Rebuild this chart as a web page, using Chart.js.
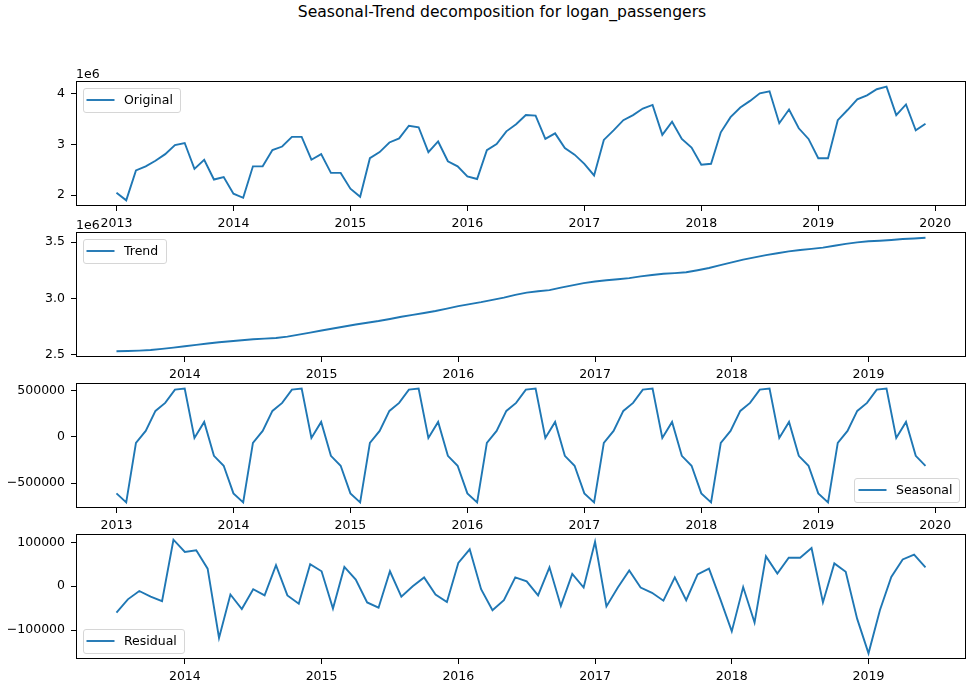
<!DOCTYPE html>
<html>
<head>
<meta charset="utf-8">
<title>logan_passengers decomposition</title>
<script src="https://cdn.jsdelivr.net/npm/chart.js@4.4.0/dist/chart.umd.min.js"></script>
<style>
  html, body { margin: 0; padding: 0; background: #fff; }
  #page { position: relative; width: 967px; height: 687px; overflow: hidden; font-family: 'DejaVu Sans', sans-serif; }
  #title { position: absolute; left: 502px; top: 3px; transform: translateX(-50%); white-space: nowrap; font-size: 15.6px; color: #000; }
  .panel { position: absolute; left: 0; }
</style>
</head>
<body>
<div id="page">
  <div id="title">Seasonal-Trend decomposition for logan_passengers</div>
  <canvas id="chart-original" class="panel" width="967" height="175" style="top:61px"></canvas>
  <canvas id="chart-trend" class="panel" width="967" height="175" style="top:212px"></canvas>
  <canvas id="chart-seasonal" class="panel" width="967" height="175" style="top:363px"></canvas>
  <canvas id="chart-residual" class="panel" width="967" height="175" style="top:514px"></canvas>
</div>
<script>
// Monthly passengers, Jan 2013 - Dec 2019 (millions)
const originalValues = [
  2.05, 1.90, 2.49, 2.57, 2.68, 2.81, 2.99, 3.03, 2.52, 2.70, 2.31, 2.36,
  2.03, 1.95, 2.57, 2.57, 2.89, 2.96, 3.15, 3.15, 2.70, 2.81, 2.44, 2.44,
  2.13, 1.97, 2.73, 2.85, 3.04, 3.12, 3.37, 3.34, 2.85, 3.06, 2.67, 2.57,
  2.37, 2.32, 2.89, 3.01, 3.26, 3.40, 3.58, 3.57, 3.11, 3.22, 2.93, 2.80,
  2.62, 2.39, 3.09, 3.28, 3.48, 3.58, 3.71, 3.78, 3.19, 3.45, 3.11, 2.94,
  2.60, 2.62, 3.24, 3.54, 3.73, 3.86, 4.01, 4.05, 3.42, 3.69, 3.32, 3.11,
  2.73, 2.73, 3.48, 3.68, 3.89, 3.97, 4.09, 4.14, 3.58, 3.79, 3.28, 3.41
];

// Trend, Jul 2013 - Jun 2019 (millions, centred moving average)
const trendValues = [
  2.527, 2.529, 2.533, 2.538, 2.548, 2.560,
  2.572, 2.584, 2.596, 2.607, 2.617, 2.626, 2.634, 2.640, 2.645, 2.658, 2.676, 2.694,
  2.712, 2.730, 2.748, 2.766, 2.782, 2.797, 2.815, 2.835, 2.852, 2.868, 2.886, 2.908,
  2.930, 2.948, 2.965, 2.985, 3.005, 3.030, 3.050, 3.062, 3.072, 3.095, 3.115, 3.135,
  3.150, 3.160, 3.170, 3.180, 3.195, 3.207, 3.218, 3.224, 3.232, 3.250, 3.270, 3.295,
  3.320, 3.345, 3.365, 3.385, 3.402, 3.418, 3.430, 3.440, 3.452, 3.468, 3.485, 3.498,
  3.508, 3.513, 3.520, 3.528, 3.533, 3.540
];

// Seasonal component, Jan 2013 - Dec 2019
const seasonalValues = [
  -609000, -706000, -64000, 64000, 280000, 366000, 509000, 520000, -11000, 161000, -204000, -312000,
  -609000, -706000, -64000, 64000, 280000, 366000, 509000, 520000, -11000, 161000, -204000, -312000,
  -609000, -706000, -64000, 64000, 280000, 366000, 509000, 520000, -11000, 161000, -204000, -312000,
  -609000, -706000, -64000, 64000, 280000, 366000, 509000, 520000, -11000, 161000, -204000, -312000,
  -609000, -706000, -64000, 64000, 280000, 366000, 509000, 520000, -11000, 161000, -204000, -312000,
  -609000, -706000, -64000, 64000, 280000, 366000, 509000, 520000, -11000, 161000, -204000, -312000,
  -609000, -706000, -64000, 64000, 280000, 366000, 509000, 520000, -11000, 161000, -204000, -312000
];

// Residual, Jul 2013 - Jun 2019
const residualValues = [
  -60000, -30000, -11000, -24000, -34000, 106000,
  78000, 82000, 40000, -118000, -19000, -52000, -7000, -21000, 48000, -21000, -40000, 50000,
  34000, -51000, 44000, 15000, -37000, -49000, 34000, -24000, 0, 20000, -19000, -36000,
  53000, 84000, -7000, -55000, -32000, 20000, 11000, -21000, 43000, -45000, 28000, -3000,
  101000, -46000, -3000, 36000, -3000, -15000, -33000, 20000, -32000, 27000, 40000, -30000,
  -103000, -2000, -83000, 68000, 29000, 65000, 65000, 87000, -37000, 52000, 33000, -74000,
  -153000, -55000, 21000, 61000, 72000, 43000
];

// Tick labels
const yearsFull = [2013, 2014, 2015, 2016, 2017, 2018, 2019, 2020];
const yearsTrimmed = [2014, 2015, 2016, 2017, 2018, 2019];
const originalTicks = [2, 3, 4];
const trendTicks = [2.5, 3.0, 3.5];
const seasonalTicks = [-500000, 0, 500000];
const residualTicks = [-100000, 0, 100000];

const LINE = '#1f77b4';
const FONT = 'DejaVu Sans';

// decimal-year x positions for a run of months
function monthsFrom(year, month, count) {
  const out = [];
  for (let i = 0; i < count; i++) out.push(year + (month - 1 + i) / 12);
  return out;
}

function minusSign(s) {
  return String(s).replace('-', '\u2212');
}

// axes frame, matplotlib-style legend and the "1e6" offset label
const axesDecor = {
  id: 'axesDecor',
  afterDatasetsDraw(chart, args, opts) {
    const { ctx, chartArea: a } = chart;
    ctx.save();
    ctx.strokeStyle = '#000';
    ctx.lineWidth = 1;
    ctx.strokeRect(a.left + 0.5, a.top + 0.5, a.right - a.left - 1, a.bottom - a.top - 1);

    ctx.font = '12.5px "' + FONT + '"';
    ctx.fillStyle = '#000';
    if (opts.offsetText) {
      ctx.textAlign = 'left';
      ctx.textBaseline = 'alphabetic';
      ctx.fillText(opts.offsetText, a.left, a.top - 3.5);
    }

    const ds = chart.data.datasets[0];
    const tw = ctx.measureText(ds.label).width;
    const w = 4 + 28 + 9.5 + tw + 7;
    const h = 24;
    const pos = opts.legend || 'upper left';
    const x = pos.indexOf('right') >= 0 ? a.right - 6.5 - w : a.left + 6.5;
    const y = pos.indexOf('upper') >= 0 ? a.top + 6.5 : a.bottom - 6.5 - h;
    ctx.beginPath();
    ctx.roundRect(Math.round(x) + 0.5, Math.round(y) + 0.5, Math.round(w), h, 2.5);
    ctx.fillStyle = 'rgba(255,255,255,0.8)';
    ctx.fill();
    ctx.strokeStyle = '#d6d6d6';
    ctx.stroke();

    const cy = Math.round(y) + h / 2;
    ctx.beginPath();
    ctx.moveTo(x + 4, cy);
    ctx.lineTo(x + 32, cy);
    ctx.strokeStyle = ds.borderColor;
    ctx.lineWidth = 1.9;
    ctx.stroke();

    ctx.fillStyle = '#000';
    ctx.textAlign = 'left';
    ctx.textBaseline = 'middle';
    ctx.fillText(ds.label, x + 41.5, cy + 1);
    ctx.restore();
  }
};

function drawPanel(id, cfg) {
  const points = cfg.x.map((x, i) => ({ x: x, y: cfg.y[i] }));
  return new Chart(document.getElementById(id), {
    type: 'line',
    data: {
      datasets: [{
        label: cfg.label,
        data: points,
        borderColor: LINE,
        borderWidth: 1.9,
        pointRadius: 0,
        tension: 0,
        fill: false
      }]
    },
    plugins: [axesDecor],
    options: {
      responsive: false,
      animation: false,
      events: [],
      layout: { padding: { top: 20, left: 0, right: 1, bottom: 0 } },
      plugins: {
        legend: { display: false },
        tooltip: { enabled: false },
        axesDecor: { legend: cfg.legend, offsetText: cfg.offsetText }
      },
      scales: {
        x: {
          type: 'linear',
          min: cfg.xMin,
          max: cfg.xMax,
          afterBuildTicks: s => { s.ticks = cfg.xTicks.map(v => ({ value: v })); },
          afterFit: s => { s.height = 30; },
          grid: { drawOnChartArea: false, tickLength: 5, color: '#000', lineWidth: 1 },
          border: { display: false },
          ticks: {
            padding: 5,
            maxRotation: 0,
            autoSkip: false,
            color: '#000',
            font: { family: FONT, size: 12.5 },
            callback: v => String(v)
          }
        },
        y: {
          min: cfg.yMin,
          max: cfg.yMax,
          afterBuildTicks: s => { s.ticks = cfg.yTicks.map(v => ({ value: v })); },
          afterFit: s => { s.width = 76; },
          grid: { drawOnChartArea: false, tickLength: 5, color: '#000', lineWidth: 1 },
          border: { display: false },
          ticks: {
            padding: 6,
            autoSkip: false,
            color: '#000',
            font: { family: FONT, size: 12.5 },
            callback: cfg.yFormat
          }
        }
      }
    }
  });
}

drawPanel('chart-original', {
  label: 'Original',
  x: monthsFrom(2013, 1, originalValues.length),
  y: originalValues,
  xMin: 2012.654, xMax: 2020.263, xTicks: yearsFull,
  yMin: 1.788, yMax: 4.252, yTicks: originalTicks,
  yFormat: v => v.toFixed(0),
  legend: 'upper left',
  offsetText: '1e6'
});

drawPanel('chart-trend', {
  label: 'Trend',
  x: monthsFrom(2013, 7, trendValues.length),
  y: trendValues,
  xMin: 2013.204, xMax: 2019.713, xTicks: yearsTrimmed,
  yMin: 2.476, yMax: 3.591, yTicks: trendTicks,
  yFormat: v => v.toFixed(1),
  legend: 'upper left',
  offsetText: '1e6'
});

drawPanel('chart-seasonal', {
  label: 'Seasonal',
  x: monthsFrom(2013, 1, seasonalValues.length),
  y: seasonalValues,
  xMin: 2012.654, xMax: 2020.263, xTicks: yearsFull,
  yMin: -767000, yMax: 581000, yTicks: seasonalTicks,
  yFormat: v => minusSign(v.toFixed(0)),
  legend: 'lower right'
});

drawPanel('chart-residual', {
  label: 'Residual',
  x: monthsFrom(2013, 7, residualValues.length),
  y: residualValues,
  xMin: 2013.204, xMax: 2019.713, xTicks: yearsTrimmed,
  yMin: -166000, yMax: 119000, yTicks: residualTicks,
  yFormat: v => minusSign(v.toFixed(0)),
  legend: 'lower left'
});
</script>
</body>
</html>
